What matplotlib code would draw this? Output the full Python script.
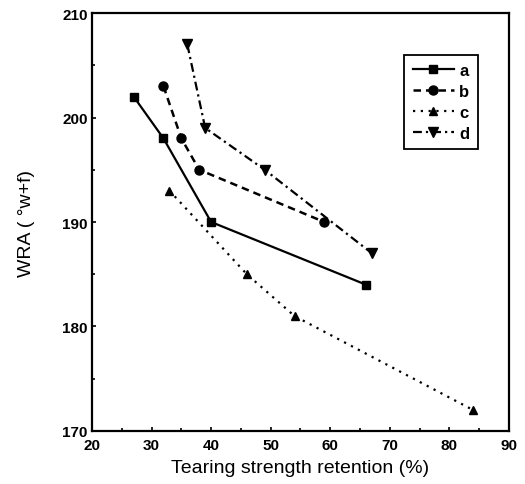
import matplotlib
matplotlib.use('Agg')
import matplotlib.pyplot as plt
from matplotlib.ticker import MultipleLocator

plt.rcParams['font.family'] = ['Liberation Sans', 'DejaVu Sans']
plt.rcParams['font.weight'] = 'bold'

# values
a_x = [27, 32, 40, 66]
a_y = [202, 198, 190, 184]
b_x = [32, 35, 38, 59]
b_y = [203, 198, 195, 190]
c_x = [33, 46, 54, 84]
c_y = [193, 185, 181, 172]
d_x = [36, 39, 49, 67]
d_y = [207, 199, 195, 187]

fig = plt.figure(figsize=(5.25, 4.85), dpi=100)
ax = fig.add_axes([0.1752, 0.1093, 0.7943, 0.8618])

ax.plot(a_x, a_y, '-', color='black', lw=1.6, marker='s', ms=5.5, label='a')
ax.plot(b_x, b_y, color='black', lw=1.8, ls=(0, (3, 2)), marker='o', ms=6.5, label='b')
ax.plot(c_x, c_y, color='black', lw=1.6, ls=(0, (1, 2.5)), marker='^', ms=6, label='c')
ax.plot(d_x, d_y, color='black', lw=1.6, ls=(0, (4, 1.8, 1, 1.8)), marker='v', ms=6.5, label='d')

ax.set_xlim(20, 90)
ax.set_ylim(170, 210)
ax.xaxis.set_major_locator(MultipleLocator(10))
ax.xaxis.set_minor_locator(MultipleLocator(5))
ax.yaxis.set_major_locator(MultipleLocator(10))
ax.yaxis.set_minor_locator(MultipleLocator(5))
ax.tick_params(which='both', direction='in', width=1.2)
ax.tick_params(which='major', length=3, labelsize=11)
ax.tick_params(axis='x', which='major', pad=5)
ax.tick_params(axis='y', which='major', pad=3)
ax.tick_params(which='minor', length=2)
for s in ax.spines.values():
    s.set_linewidth(1.6)

ax.set_xlabel('Tearing strength retention (%)', fontsize=14, labelpad=5)
ax.set_ylabel('WRA ( \u00b0w+f)', fontsize=14, labelpad=20)

leg = ax.legend(loc='upper right', bbox_to_anchor=(0.945, 0.92), fontsize=12,
                handlelength=2.5, labelspacing=0.35, borderpad=0.5,
                handletextpad=0.3, fancybox=False, framealpha=1,
                edgecolor='black')
leg.get_frame().set_linewidth(1.3)

fig.savefig('out.png', dpi=100)
